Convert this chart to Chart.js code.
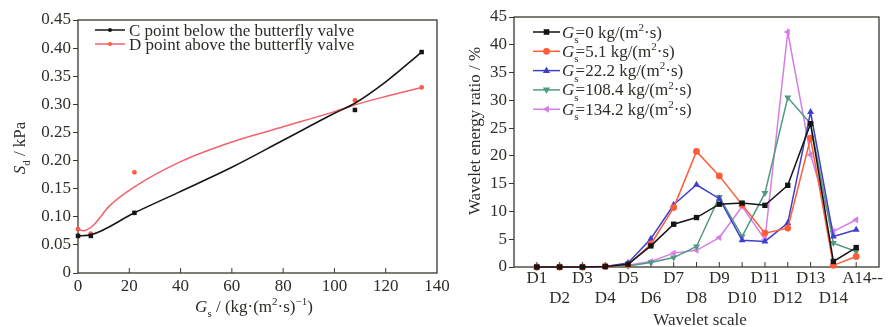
<!DOCTYPE html>
<html>
<head>
<meta charset="utf-8">
<script src="https://cdn.jsdelivr.net/npm/chart.js@4.4.0/dist/chart.umd.min.js"></script>
<style>
  html, body { margin: 0; padding: 0; background: #fff; }
  #wrap { position: relative; width: 888px; height: 327px; overflow: hidden; }
  #c1 { position: absolute; left: 0; top: 0; }
  #c2 { position: absolute; left: 444px; top: 0; }
</style>
</head>
<body>
<div id="wrap">
  <canvas id="c1" width="470" height="327"></canvas>
  <canvas id="c2" width="444" height="327"></canvas>
</div>
<script>
// ---- left chart data (Sd vs Gs) ----
const gsValues = [0, 5, 22, 108, 134];
const sdPointC = [0.066, 0.066, 0.107, 0.290, 0.393];
const sdPointD = [0.078, 0.070, 0.179, 0.307, 0.330];
// fitted curves
const fitCX = [0, 5, 22, 39, 60, 80, 100, 108, 120, 134];
const fitCY = [0.066, 0.068, 0.107, 0.143, 0.188, 0.236, 0.284, 0.302, 0.340, 0.393];
const fitDX = [0, 2, 6, 12, 22, 40, 60, 80, 100, 108, 120, 134];
const fitDY = [0.078, 0.075, 0.085, 0.118, 0.153, 0.198, 0.233, 0.260, 0.287, 0.299, 0.314, 0.330];
const legendLeft = ['C point below the butterfly valve', 'D point above the butterfly valve'];

// ---- right chart data (wavelet energy ratio) ----
const waveletScales = ['D1', 'D2', 'D3', 'D4', 'D5', 'D6', 'D7', 'D8', 'D9', 'D10', 'D11', 'D12', 'D13', 'D14', 'A14'];
const gsLabels = ['0', '5.1', '22.2', '108.4', '134.2'];
const ratioGs0   = [0, 0, 0, 0.1, 0.5, 3.8, 7.7, 8.9, 11.3, 11.5, 11.1, 14.7, 25.8, 1.0, 3.5];
const ratioGs5   = [0, 0, 0, 0.1, 0.4, 4.1, 10.7, 20.8, 16.4, 11.2, 6.1, 7.0, 23.2, 0.3, 1.9];
const ratioGs22  = [0, 0, 0, 0.1, 0.7, 5.1, 11.2, 14.8, 12.3, 4.8, 4.6, 7.9, 27.9, 5.5, 6.7];
const ratioGs108 = [0, 0, 0, 0.1, 0.2, 0.8, 1.7, 3.7, 12.6, 5.5, 13.3, 30.5, 25.8, 4.3, 2.8];
const ratioGs134 = [0, 0, 0, 0.1, 0.3, 1.0, 2.5, 3.0, 5.3, 10.9, 4.9, 42.3, 20.2, 6.4, 8.5];

const FONT = '"Liberation Serif", "Times New Roman", serif';
const INK = '#2d2d28';
const AXIS = '#38382e';

function segFont(s, size) {
    const sz = (s.sub || s.sup) ? Math.round(size * 0.62) : size;
    return (s.it ? 'italic ' : '') + sz + 'px ' + FONT;
}

// draw text made of pieces (italic, subscript, superscript)
function drawRich(ctx, segs, x, y, size, align) {
    ctx.save();
    ctx.fillStyle = INK;
    ctx.textBaseline = 'alphabetic';
    ctx.textAlign = 'left';
    let w = 0;
    segs.forEach(s => { ctx.font = segFont(s, size); w += ctx.measureText(s.t).width * (s.adv ?? 1); });
    let cx = align === 'center' ? x - w / 2 : x;
    segs.forEach(s => {
        ctx.font = segFont(s, size);
        const dy = s.sub ? size * 0.32 : (s.sup ? -size * 0.4 : 0);
        ctx.fillText(s.t, cx, y + dy);
        cx += ctx.measureText(s.t).width * (s.adv ?? 1);
    });
    ctx.restore();
}

function drawMarker(ctx, style, x, y, r, color) {
    ctx.save();
    ctx.fillStyle = color;
    ctx.translate(x, y);
    ctx.rotate(style.rot * Math.PI / 180);
    ctx.beginPath();
    if (style.point === 'rect') {
        const h = r * 0.7;
        ctx.rect(-h, -h, 2 * h, 2 * h);
    } else if (style.point === 'circle') {
        ctx.arc(0, 0, r * 0.85, 0, Math.PI * 2);
    } else {
        ctx.moveTo(0, -r);
        ctx.lineTo(r * 0.9, r * 0.6);
        ctx.lineTo(-r * 0.9, r * 0.6);
        ctx.closePath();
    }
    ctx.fill();
    ctx.restore();
}

// box round the plot and ticks pointing inside on the x axis
const framePlugin = {
    id: 'frame',
    beforeDatasetsDraw(chart) {
        const { ctx, chartArea: a } = chart;
        const xs = chart.scales.x;
        ctx.save();
        ctx.strokeStyle = AXIS;
        ctx.lineWidth = 1.3;
        ctx.strokeRect(a.left, a.top, a.right - a.left, a.bottom - a.top);
        ctx.lineWidth = 1;
        xs.ticks.forEach(t => {
            const px = xs.getPixelForValue(t.value);
            if (px <= a.left + 1 || px >= a.right - 1) return;
            ctx.beginPath();
            ctx.moveTo(px, a.bottom);
            ctx.lineTo(px, a.bottom - 5);
            ctx.stroke();
        });
        ctx.restore();
    }
};

const leftColors = { c: '#161616', dLine: '#f4606c', dPoint: '#ff5a40' };

const leftText = {
    id: 'leftText',
    afterDraw(chart) {
        const ctx = chart.ctx;
        // legend
        const rows = [30, 44];
        const cols = [leftColors.c, leftColors.dLine];
        rows.forEach((ry, i) => {
            ctx.save();
            ctx.strokeStyle = cols[i];
            ctx.lineWidth = 1.5;
            ctx.beginPath(); ctx.moveTo(95, ry); ctx.lineTo(125, ry); ctx.stroke();
            ctx.fillStyle = i === 0 ? leftColors.c : leftColors.dPoint;
            ctx.beginPath(); ctx.arc(110, ry, 2, 0, Math.PI * 2); ctx.fill();
            ctx.restore();
            drawRich(ctx, [{ t: legendLeft[i] }], 129, ry + 5.5, 17, 'left');
        });
        // x title
        drawRich(ctx, [
            { t: 'G', it: true }, { t: 's', sub: true }, { t: ' / (kg·(m' }, { t: '2', sup: true },
            { t: '·s)' }, { t: '−1', sup: true }, { t: ')' }
        ], 254, 312, 17, 'center');
        // y title
        ctx.save();
        ctx.translate(25, 148);
        ctx.rotate(-Math.PI / 2);
        drawRich(ctx, [{ t: 'S', it: true }, { t: 'd', sub: true }, { t: ' / kPa' }], 0, 0, 17, 'center');
        ctx.restore();
    }
};

new Chart(document.getElementById('c1'), {
    type: 'scatter',
    data: {
        datasets: [
            { label: 'C fit', data: fitCX.map((x, i) => ({ x: x, y: fitCY[i] })), showLine: true,
              borderColor: leftColors.c, borderWidth: 1.6, pointRadius: 0, cubicInterpolationMode: 'monotone' },
            { label: 'D fit', data: fitDX.map((x, i) => ({ x: x, y: fitDY[i] })), showLine: true,
              borderColor: leftColors.dLine, borderWidth: 1.5, pointRadius: 0, cubicInterpolationMode: 'monotone' },
            { label: legendLeft[0], data: gsValues.map((x, i) => ({ x: x, y: sdPointC[i] })),
              pointStyle: 'rect', pointRadius: 3.2, backgroundColor: leftColors.c, borderWidth: 0 },
            { label: legendLeft[1], data: gsValues.map((x, i) => ({ x: x, y: sdPointD[i] })),
              pointStyle: 'circle', pointRadius: 2.4, backgroundColor: leftColors.dPoint, borderWidth: 0 }
        ]
    },
    options: {
        responsive: false,
        animation: false,
        clip: false,
        layout: { padding: { left: 0, right: 33, top: 20, bottom: 0 } },
        plugins: { legend: { display: false }, tooltip: { enabled: false } },
        scales: {
            x: {
                type: 'linear', min: 0, max: 140,
                ticks: { stepSize: 20, color: INK, font: { family: FONT, size: 17 }, padding: 3, maxRotation: 0 },
                grid: { display: false, drawTicks: false }, border: { display: false },
                afterFit(s) { s.height = 54; }
            },
            y: {
                min: 0, max: 0.45,
                ticks: { stepSize: 0.05, color: INK, font: { family: FONT, size: 17 }, padding: 2,
                         callback: v => v === 0 ? '0' : v.toFixed(2) },
                grid: { drawOnChartArea: false, tickLength: 5, color: AXIS }, border: { display: false },
                afterFit(s) { s.width = 78; }
            }
        }
    },
    plugins: [framePlugin, leftText]
});

// ---- right chart ----
const seriesStyles = [
    { color: '#151515', point: 'rect', rot: 0 },
    { color: '#ff5c38', point: 'circle', rot: 0 },
    { color: '#4040cc', point: 'triangle', rot: 0 },
    { color: '#4f9a82', point: 'triangle', rot: 180 },
    { color: '#d67ee6', point: 'triangle', rot: -90 }
];
const ratioSeries = [ratioGs0, ratioGs5, ratioGs22, ratioGs108, ratioGs134];

const rightText = {
    id: 'rightText',
    afterDraw(chart) {
        const ctx = chart.ctx;
        gsLabels.forEach((g, i) => {
            const ry = 32 + i * 19.3;
            const st = seriesStyles[i];
            ctx.save();
            ctx.strokeStyle = st.color;
            ctx.lineWidth = 1.5;
            ctx.beginPath(); ctx.moveTo(89, ry); ctx.lineTo(116, ry); ctx.stroke();
            ctx.restore();
            drawMarker(ctx, st, 102.5, ry, 4, st.color);
            drawRich(ctx, [
                { t: 'G', it: true }, { t: 's', sub: true, adv: 0.3 }, { t: '=' + g + ' kg/(m' },
                { t: '2', sup: true }, { t: '·s)' }
            ], 118, ry + 5.5, 17, 'left');
        });
        drawRich(ctx, [{ t: 'Wavelet scale' }], 256, 325, 17, 'center');
        ctx.save();
        ctx.translate(36, 131);
        ctx.rotate(-Math.PI / 2);
        drawRich(ctx, [{ t: 'Wavelet energy ratio / %' }], 0, 0, 17, 'center');
        ctx.restore();
    }
};

new Chart(document.getElementById('c2'), {
    type: 'line',
    data: {
        datasets: ratioSeries.map((vals, k) => ({
            label: 'Gs=' + gsLabels[k] + ' kg/(m2·s)',
            data: vals.map((v, i) => ({ x: i + 1, y: v })),
            borderColor: seriesStyles[k].color,
            backgroundColor: seriesStyles[k].color,
            borderWidth: 1.5,
            pointStyle: seriesStyles[k].point,
            rotation: seriesStyles[k].rot,
            pointRadius: seriesStyles[k].point === 'rect' ? 3.8 : (seriesStyles[k].point === 'circle' ? 3.4 : 4),
            pointBorderWidth: 0,
            tension: 0
        }))
    },
    options: {
        responsive: false,
        animation: false,
        clip: false,
        layout: { padding: { left: 0, right: 9, top: 17, bottom: 0 } },
        plugins: { legend: { display: false }, tooltip: { enabled: false } },
        scales: {
            x: {
                type: 'linear', min: 0, max: 16,
                ticks: {
                    stepSize: 1, autoSkip: false, maxRotation: 0, color: INK, padding: 1,
                    font: { family: FONT, size: 17 },
                    callback: v => {
                        const i = v - 1;
                        if (i < 0 || i >= waveletScales.length) return '';
                        const name = waveletScales[i] === 'A14' ? '   A14--' : waveletScales[i];
                        return i % 2 === 0 ? name : ['', name];
                    }
                },
                grid: { display: false, drawTicks: false }, border: { display: false },
                afterFit(s) { s.height = 60; }
            },
            y: {
                min: 0, max: 45,
                ticks: { stepSize: 5, color: INK, font: { family: FONT, size: 17 }, padding: 2 },
                grid: { drawOnChartArea: false, tickLength: 5, color: AXIS }, border: { display: false },
                afterFit(s) { s.width = 70; }
            }
        }
    },
    plugins: [framePlugin, rightText]
});
</script>
</body>
</html>
